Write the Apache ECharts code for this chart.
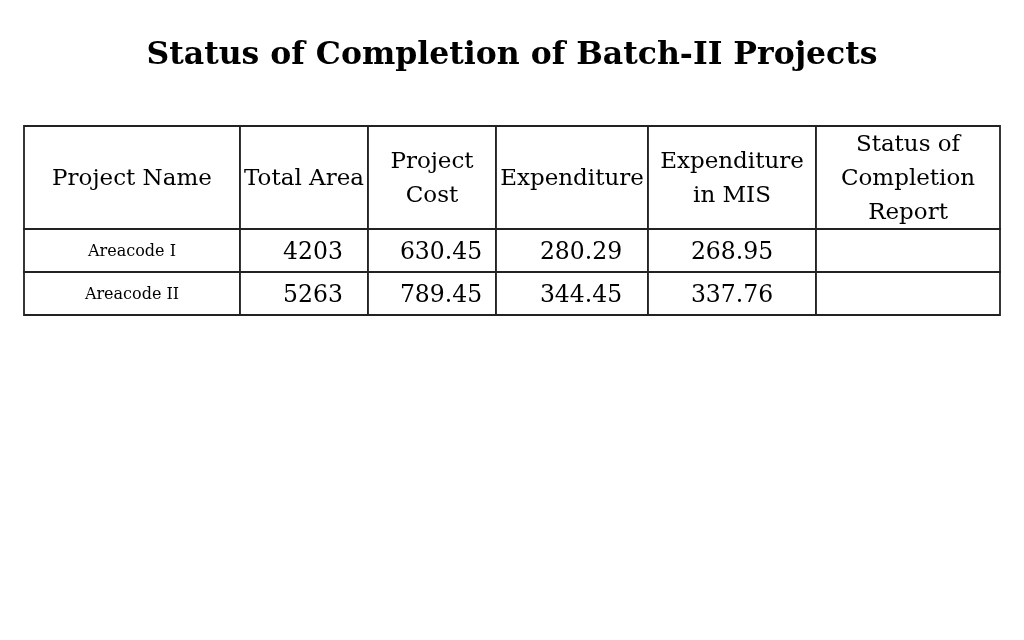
<!DOCTYPE html>
<html>
<head>
<meta charset="utf-8">
<script src="https://cdn.jsdelivr.net/npm/echarts@6/dist/echarts.min.js"></script>
<style>html,body{margin:0;padding:0;background:#fff}#c{width:1024px;height:640px}</style>
</head>
<body>
<div id="c"></div>
<script>
// ---- data ----
var titleText = 'Status of Completion of Batch-II Projects';
var headers = ['Project Name', 'Total Area', 'Project\nCost', 'Expenditure', 'Expenditure\nin MIS', 'Status of\nCompletion\nReport'];
var projects = ['Areacode I', 'Areacode II'];
var totalArea = ['4203', '5263'];
var projectCost = ['630.45', '789.45'];
var expenditure = ['280.29', '344.45'];
var expenditureMIS = ['268.95', '337.76'];
var statusReport = ['', ''];

// ---- layout (pixel units on hidden value axes) ----
var colEdges = [24, 240, 368, 496, 648, 816, 1000];
var rowEdges = [126, 229, 272, 315];
var colTextDx = [0, 9, 9, 9, 0, 0];
var FONT = '"DejaVu Serif", "Liberation Serif", serif';

var columns = [projects, totalArea, projectCost, expenditure, expenditureMIS, statusReport];
var cells = [];
headers.forEach(function (h, c) { cells.push([c, 0, h, 'header']); });
projects.forEach(function (p, r) {
  columns.forEach(function (col, c) {
    cells.push([c, r + 1, col[r], c === 0 ? 'name' : 'num']);
  });
});

var chart = echarts.init(document.getElementById('c'), null, {renderer: 'canvas'});
chart.setOption({
  backgroundColor: '#fff',
  animation: false,
  title: {
    text: titleText, left: 'center', top: 35,
    textStyle: {fontFamily: FONT, fontSize: 31.5, fontWeight: 'bold', color: '#000'}
  },
  grid: {left: 0, right: 0, top: 0, bottom: 0},
  xAxis: {type: 'value', min: 0, max: 1024, show: false},
  yAxis: {type: 'value', min: 0, max: 640, inverse: true, show: false},
  series: [{
    type: 'custom',
    coordinateSystem: 'cartesian2d',
    data: cells,
    renderItem: function (params, api) {
      var c = api.value(0), r = api.value(1);
      var d = cells[params.dataIndex];
      var p0 = api.coord([colEdges[c], rowEdges[r]]);
      var p1 = api.coord([colEdges[c + 1], rowEdges[r + 1]]);
      var kind = d[3];
      var size = kind === 'name' ? 16 : (kind === 'num' ? 23.5 : 23);
      var cx = (p0[0] + p1[0]) / 2 + (kind === 'num' ? colTextDx[c] : 0);
      var cy = (p0[1] + p1[1]) / 2 + (kind === 'header' ? 2 : (kind === 'num' ? 2 : 1));
      return {
        type: 'group',
        children: [{
          type: 'rect',
          shape: {x: p0[0], y: p0[1], width: p1[0] - p0[0], height: p1[1] - p0[1]},
          style: {fill: '#fff', stroke: '#222', lineWidth: 1.8}
        }, {
          type: 'text',
          style: {
            text: d[2], x: cx, y: cy, align: 'center', verticalAlign: 'middle',
            font: size + 'px ' + FONT, fill: '#000', lineHeight: 34
          }
        }]
      };
    }
  }]
});
</script>
</body>
</html>
